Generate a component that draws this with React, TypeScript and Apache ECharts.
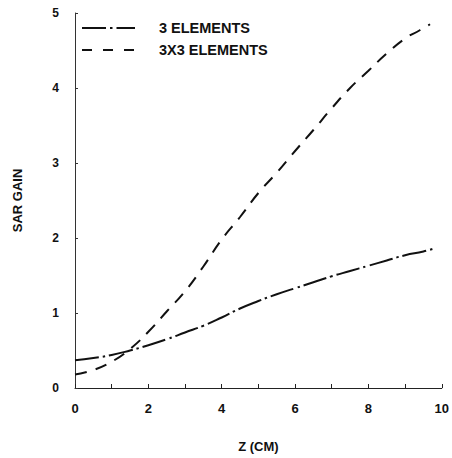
import React, { useEffect, useRef } from "react";
import * as echarts from "echarts";

const zValues = [0, 0.5, 1, 1.5, 2, 2.5, 3, 3.5, 4, 4.5, 5, 5.5, 6, 6.5, 7, 7.5, 8, 8.5, 9, 9.5, 9.85];
const gain3 = [0.37, 0.40, 0.44, 0.50, 0.57, 0.65, 0.74, 0.83, 0.94, 1.06, 1.16, 1.25, 1.33, 1.41, 1.49, 1.56, 1.63, 1.70, 1.77, 1.82, 1.87];
const z3x3 = [0, 0.5, 1, 1.5, 2, 2.5, 3, 3.5, 4, 4.5, 5, 5.5, 6, 6.5, 7, 7.5, 8, 8.5, 9, 9.4, 9.68];
const gain3x3 = [0.18, 0.24, 0.35, 0.52, 0.75, 1.02, 1.29, 1.62, 1.98, 2.28, 2.6, 2.87, 3.16, 3.44, 3.73, 4.0, 4.23, 4.46, 4.66, 4.77, 4.85];
const seriesNames = ["3 ELEMENTS", "3X3 ELEMENTS"];
const xTicks = [0, 2, 4, 6, 8, 10];
const yTicks = [0, 1, 2, 3, 4, 5];

const FONT = "'Liberation Sans', Arial, sans-serif";
const DASH_DOT = [24, 4, 2.5, 4];
const DASH = [12, 9];

export default function App() {
  const ref = useRef<HTMLDivElement>(null);
  useEffect(() => {
    if (!ref.current) return;
    const chart = echarts.init(ref.current, undefined, { renderer: "svg" });
    const legendRows = [
      { name: seriesNames[0], y: 28, dash: DASH_DOT },
      { name: seriesNames[1], y: 50, dash: [10, 11] },
    ];
    chart.setOption({
      animation: false,
      backgroundColor: "#fff",
      grid: { left: 75, right: 9.5, top: 13, bottom: 70, containLabel: false },
      graphic: legendRows.flatMap((r) => [
        {
          type: "line",
          shape: { x1: 82, y1: r.y, x2: 135, y2: r.y },
          style: { stroke: "#111", lineWidth: 2, lineDash: r.dash },
        },
        {
          type: "text",
          x: 159,
          y: r.y,
          style: {
            text: r.name,
            fontFamily: FONT,
            fontWeight: "bold",
            fontSize: 14.5,
            fill: "#111",
            verticalAlign: "middle",
          },
        },
      ]),
      xAxis: {
        type: "value",
        min: 0,
        max: 10,
        interval: 1,
        name: "Z (CM)",
        nameLocation: "middle",
        nameGap: 52,
        nameTextStyle: { fontFamily: FONT, fontWeight: "bold", fontSize: 13, color: "#111" },
        axisLine: { show: true, onZero: false, lineStyle: { color: "#222", width: 1 } },
        axisTick: { show: true, inside: true, length: 4, lineStyle: { color: "#222" } },
        splitLine: { show: false },
        axisLabel: {
          margin: 14,
          fontFamily: FONT,
          fontWeight: "bold",
          fontSize: 13,
          color: "#111",
          formatter: (v: number) => (xTicks.includes(v) ? String(v) : ""),
        },
      },
      yAxis: {
        type: "value",
        min: 0,
        max: 5,
        interval: 1,
        name: "SAR GAIN",
        nameLocation: "middle",
        nameGap: 51,
        nameTextStyle: { fontFamily: FONT, fontWeight: "bold", fontSize: 13, color: "#111" },
        axisLine: { show: true, onZero: false, lineStyle: { color: "#333", width: 1 } },
        axisTick: { show: true, inside: true, length: 3, lineStyle: { color: "#333" } },
        splitLine: { show: false },
        axisLabel: {
          margin: 16,
          fontFamily: FONT,
          fontWeight: "bold",
          fontSize: 12,
          color: "#111",
          formatter: (v: number) => (yTicks.includes(v) ? String(v) : ""),
        },
      },
      series: [
        {
          name: seriesNames[0],
          type: "line",
          smooth: true,
          symbol: "none",
          showSymbol: false,
          data: zValues.map((z, i) => [z, gain3[i]]),
          lineStyle: { color: "#111", width: 2, type: DASH_DOT },
          itemStyle: { color: "#111" },
        },
        {
          name: seriesNames[1],
          type: "line",
          smooth: true,
          symbol: "none",
          showSymbol: false,
          data: z3x3.map((z, i) => [z, gain3x3[i]]),
          lineStyle: { color: "#111", width: 2, type: DASH },
          itemStyle: { color: "#111" },
        },
      ],
    });
    return () => chart.dispose();
  }, []);
  return <div ref={ref} style={{ width: 452, height: 458, position: "absolute", left: 0, top: 0 }} />;
}
